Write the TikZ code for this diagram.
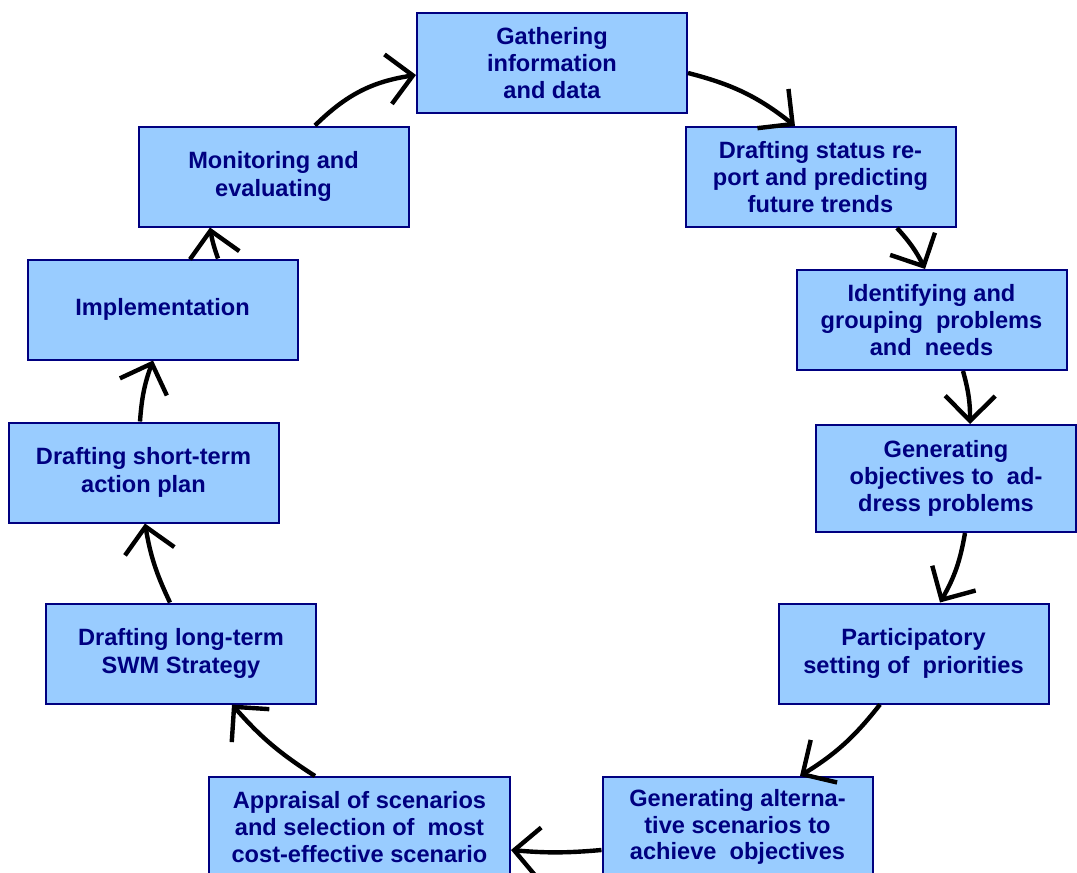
\documentclass[tikz,border=0pt]{standalone}
\usepackage{fontspec}
\setmainfont{Liberation Sans}
\usetikzlibrary{arrows.meta,calc}
\definecolor{boxfill}{HTML}{99CCFF}
\definecolor{navy}{HTML}{000080}
\begin{document}
\begin{tikzpicture}[x=0.5pt,y=-0.5pt,
  stepbox/.style={draw=navy,line width=1pt,fill=boxfill,text=navy,
    font=\fontsize{11.8}{13.4}\selectfont\bfseries,align=center,inner sep=0pt,
    minimum width=135pt,minimum height=50pt},
  twoline/.style={font=\fontsize{11.8}{14}\selectfont\bfseries},
  flow/.style={line width=2.2pt,-{Straight Barb[length=12.5pt,width=25pt]}}]
\useasboundingbox (0,0) rectangle (1077,873);
\node[stepbox] (n1) at (552,63) {Gathering\\information\\and data};
\node[stepbox] (n2) at (820.5,177) {Drafting status re-\\port and predicting\\future trends};
\node[stepbox] (n3) at (931.5,320) {Identifying and\\grouping\ \ problems\\and\ \ needs};
\node[stepbox,minimum width=130pt,minimum height=53.5pt] (n4) at (946,478.5) {Generating\\objectives to\ \ ad-\\dress problems};
\node[stepbox,twoline] (n5) at (913.5,653.5) {Participatory\\setting of\ \ priorities};
\node[stepbox] (n6) at (737.5,827) {Generating alterna-\\tive scenarios to\\achieve\ \ objectives};
\node[stepbox,minimum width=150.5pt] (n7) at (359.5,827) {Appraisal of scenarios\\and selection of\ \ most\\cost-effective scenario};
\node[stepbox,twoline] (n8) at (181,653.5) {Drafting long-term\\SWM Strategy};
\node[stepbox,twoline] (n9) at (143.5,472.5) {Drafting short-term\\action plan};
\node[stepbox] (n10) at (162.5,309.5) {Implementation};
\node[stepbox,twoline] (n11) at (273.5,176.5) {Monitoring and\\evaluating};
\draw[flow] ($(n11.north)+(41.5,0)$) to[bend left=18] ($(n1.west)+(0,12)$);
\draw[flow] ($(n1.east)+(0,10)$) to[bend left=12] ($(n2.north)+(-25.5,0)$);
\draw[flow] ($(n2.south)+(76.5,0)$) to[bend left=8] ($(n3.north)+(-6.5,0)$);
\draw[flow] ($(n3.south)+(31.5,0)$) to[bend left=8] ($(n4.north)+(24,0)$);
\draw[flow] ($(n4.south)+(19,0)$) to[bend left=10] ($(n5.north)+(26.5,0)$);
\draw[flow] ($(n5.south)+(-33.5,0)$) to[bend left=10] ($(n6.north)+(62.5,0)$);
\draw[flow] ($(n6.west)+(0,23)$) to[bend left=5] ($(n7.east)+(0,23)$);
\draw[flow] ($(n7.north)+(-44.5,0)$) to[bend left=8] ($(n8.south)+(51,0)$);
\draw[flow] ($(n8.north)+(-11,0)$) to[bend left=8] ($(n9.south)+(1.5,0)$);
\draw[flow] ($(n9.north)+(-3.5,0)$) to[bend left=8] ($(n10.south)+(-9.5,0)$);
\draw[flow] ($(n10.north)+(55.5,0)$) to[bend left=5] ($(n11.south)+(-63.5,0)$);
\end{tikzpicture}
\end{document}
